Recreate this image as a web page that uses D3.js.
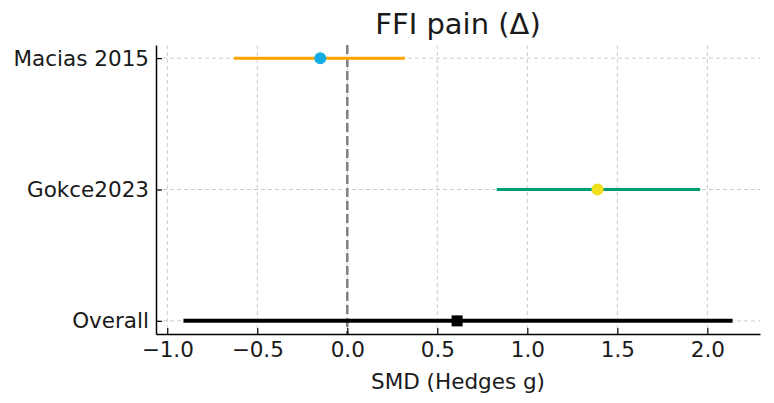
<!DOCTYPE html>
<html>
<head>
<meta charset="utf-8">
<title>FFI pain</title>
<script src="https://cdn.jsdelivr.net/npm/d3@7"></script>
<style>
  body { margin: 0; background: #fff; }
  text { font-family: "DejaVu Sans", sans-serif; fill: #1a1a1a; }
  .grid line { stroke: #cccccc; stroke-width: 1; stroke-dasharray: 4,3; }
</style>
</head>
<body>
<div class="container"></div>
<script>

// study labels, top to bottom
var studies = ["Macias 2015", "Gokce2023", "Overall"];
var estimates = [-0.15, 1.39, 0.61];
var lower = [-0.63, 0.83, -0.91];
var upper = [0.32, 1.96, 2.14];
var lineColors = ["#ffa500", "#009e73", "#000000"];
var pointColors = ["#16ade6", "#f2e01e", "#000000"];
var xTicks = [-1.0, -0.5, 0.0, 0.5, 1.0, 1.5, 2.0];

var svgWidth = 774, svgHeight = 403;
var margin = {top: 45, right: 14, bottom: 69, left: 156};
var width = svgWidth - margin.left - margin.right;
var height = svgHeight - margin.top - margin.bottom;

var svg = d3.select('.container')
  .append('svg')
  .attr('width', svgWidth)
  .attr('height', svgHeight);

var g = svg.append('g')
  .attr('transform', `translate(${margin.left},${margin.top})`);

// 5% padding like matplotlib
var lo = d3.min(lower), hi = d3.max(upper), pad = (hi - lo) * 0.05;
var x = d3.scaleLinear()
  .domain([lo - pad, hi + pad])
  .range([0, width]);

var y = d3.scaleLinear()
  .domain([-0.1, studies.length - 1 + 0.1])
  .range([0, height]);

// grid
var grid = g.append('g').attr('class', 'grid');
grid.selectAll('.vx')
  .data(xTicks)
  .enter().append('line')
  .attr('x1', d => x(d)).attr('x2', d => x(d))
  .attr('y1', 0).attr('y2', height);
grid.selectAll('.hy')
  .data(studies)
  .enter().append('line')
  .attr('x1', 0).attr('x2', width)
  .attr('y1', (d, i) => y(i)).attr('y2', (d, i) => y(i));

// zero line
g.append('line')
  .attr('x1', x(0)).attr('x2', x(0))
  .attr('y1', 0).attr('y2', height)
  .attr('stroke', '#808080')
  .attr('stroke-width', 2.5)
  .attr('stroke-dasharray', '9,4');

// CI lines
g.selectAll('.ci')
  .data(studies)
  .enter().append('line')
  .attr('x1', (d, i) => x(lower[i]))
  .attr('x2', (d, i) => x(upper[i]))
  .attr('y1', (d, i) => y(i))
  .attr('y2', (d, i) => y(i))
  .attr('stroke', (d, i) => lineColors[i])
  .attr('stroke-width', (d, i) => i == 2 ? 4 : 3);

// study points
g.selectAll('.pt')
  .data(studies.slice(0, 2))
  .enter().append('circle')
  .attr('cx', (d, i) => x(estimates[i]))
  .attr('cy', (d, i) => y(i))
  .attr('r', 6)
  .attr('fill', (d, i) => pointColors[i]);

// overall square
g.append('rect')
  .attr('x', x(estimates[2]) - 5.5)
  .attr('y', y(2) - 5.5)
  .attr('width', 11)
  .attr('height', 11)
  .attr('fill', pointColors[2]);

// axes
var xAxis = d3.axisBottom(x).tickValues(xTicks)
  .tickSizeInner(-6).tickSizeOuter(0).tickPadding(8)
  .tickFormat(d => d3.format('.1f')(d).replace('-', '\u2212'));
var xg = g.append('g')
  .attr('transform', `translate(0,${height})`)
  .call(xAxis);
xg.select('.domain').attr('stroke', '#000').attr('stroke-width', 1.5);
xg.selectAll('.tick line').attr('stroke', '#000').attr('stroke-width', 1.2);
xg.selectAll('text').attr('font-size', 21.5).attr('fill', '#1a1a1a')
  .attr('font-family', 'DejaVu Sans');

var yAxis = d3.axisLeft(y).tickValues(d3.range(studies.length))
  .tickSizeInner(-6).tickSizeOuter(0).tickPadding(7)
  .tickFormat(i => studies[i]);
var yg = g.append('g').call(yAxis);
yg.select('.domain').attr('stroke', '#000').attr('stroke-width', 1.5);
yg.selectAll('.tick line').attr('stroke', '#000').attr('stroke-width', 1.2);
yg.selectAll('text').attr('font-size', 21.5).attr('fill', '#1a1a1a')
  .attr('font-family', 'DejaVu Sans');

// title and label
svg.append('text')
  .attr('x', margin.left + width / 2)
  .attr('y', 34)
  .attr('text-anchor', 'middle')
  .attr('font-size', 29)
  .text('FFI pain (\u0394)');

svg.append('text')
  .attr('x', margin.left + width / 2)
  .attr('y', 389)
  .attr('text-anchor', 'middle')
  .attr('font-size', 21.5)
  .text('SMD (Hedges g)');

</script>
</body>
</html>
